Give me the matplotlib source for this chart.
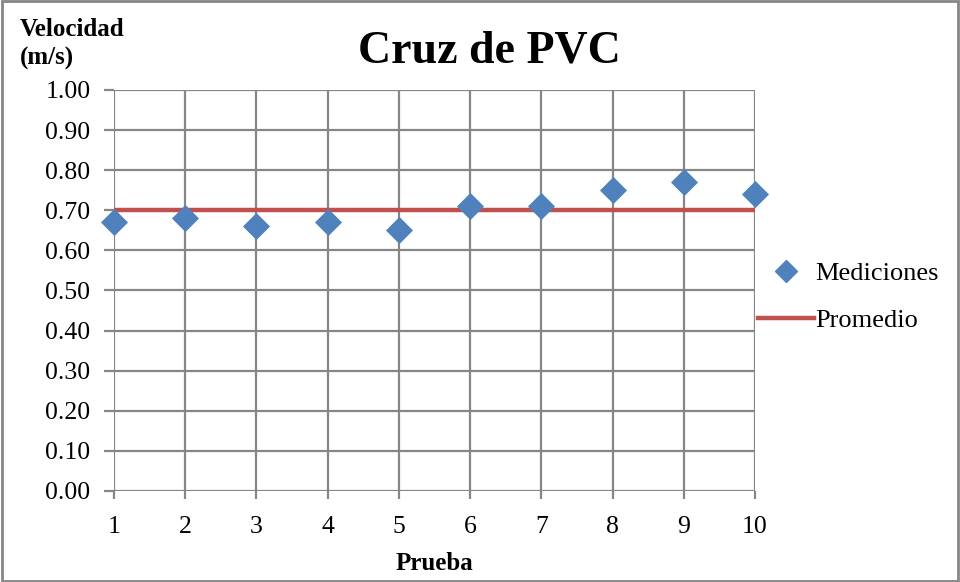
import matplotlib.pyplot as plt
from matplotlib.lines import Line2D
from matplotlib.patches import Rectangle

plt.rcParams['font.family'] = ['Liberation Serif', 'DejaVu Serif']

pruebas = [1, 2, 3, 4, 5, 6, 7, 8, 9, 10]
mediciones = [0.67, 0.68, 0.66, 0.67, 0.65, 0.71, 0.71, 0.75, 0.77, 0.74]
promedio = 0.70
yticks = [0.0, 0.1, 0.2, 0.3, 0.4, 0.5, 0.6, 0.7, 0.8, 0.9, 1.0]

azul = '#4F81BD'
rojo = '#C0504D'
gris = '#868686'

fig = plt.figure(figsize=(9.6, 5.82), dpi=100)
ax = fig.add_axes([0.11875, 0.1564, 0.6677, 0.689])

ax.plot(pruebas, [promedio] * len(pruebas), color=rojo, lw=3.2, zorder=3,
        solid_capstyle='butt')
ax.scatter(pruebas, mediciones, marker='D', s=190, color=azul, zorder=4,
           linewidths=0, clip_on=False)

ax.set_xlim(1, 10)
ax.set_ylim(0, 1.0)
ax.set_xticks(pruebas)
ax.set_yticks(yticks)
ax.set_yticklabels([f'{v:.2f}' for v in yticks])
ax.grid(True, color=gris, lw=1.6)
ax.set_axisbelow(True)
for s in ax.spines.values():
    s.set_visible(False)
ax.tick_params(axis='both', colors=gris, width=1.6,
               labelsize=18.5, labelcolor='black')
ax.tick_params(axis='x', direction='out', length=6, pad=12)
ax.tick_params(axis='y', direction='out', length=7, pad=10)

ax.set_xlabel('Prueba', fontsize=18, fontweight='bold', labelpad=10)
fig.text(0.51, 0.912, 'Cruz de PVC', fontsize=33, fontweight='bold',
         ha='center', va='center')
fig.text(0.021, 0.95, 'Velocidad', fontsize=18, fontweight='bold',
         ha='left', va='center')
fig.text(0.021, 0.899, '(m/s)', fontsize=18, fontweight='bold',
         ha='left', va='center')

handles = [
    Line2D([], [], marker='D', color=azul, lw=0, markersize=11.5),
    Line2D([], [], color=rojo, lw=3.2),
]
fig.legend(handles, ['Mediciones', 'Promedio'], loc='center left',
           bbox_to_anchor=(0.79, 0.49), frameon=False, fontsize=19,
           handlelength=2.1, handletextpad=0.05, labelspacing=0.88,
           borderpad=0, borderaxespad=0)

fig.patches.append(Rectangle((0.002, 0.002), 0.996, 0.996, fill=False,
                             edgecolor=gris, lw=2, transform=fig.transFigure))

fig.savefig('out.png', dpi=100)
